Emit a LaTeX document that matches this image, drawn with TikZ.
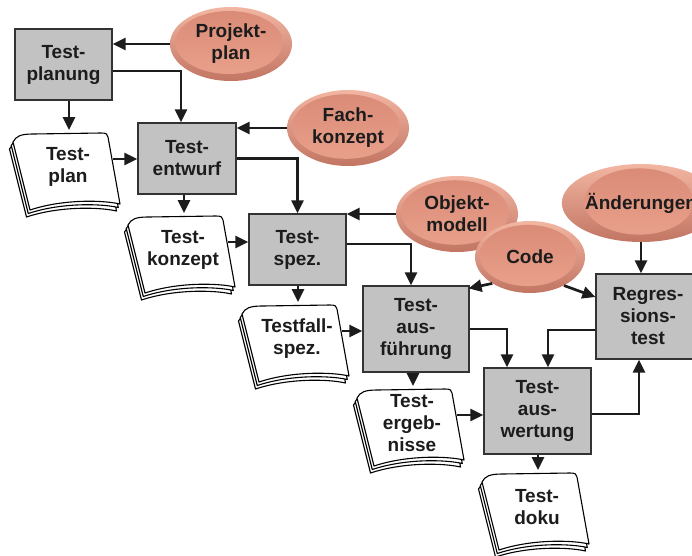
\documentclass[tikz,border=0pt]{standalone}
\usepackage{fontspec}
\setmainfont{Liberation Sans}
\usetikzlibrary{arrows.meta,shapes.geometric,calc}

\definecolor{boxgray}{HTML}{C2C2C2}
\definecolor{ink}{HTML}{1C1C1C}
\definecolor{rimtop}{HTML}{F2B6A2}
\definecolor{rimbot}{HTML}{C27563}
\definecolor{coretop}{HTML}{D98A76}
\definecolor{corebot}{HTML}{EAA28C}

\tikzset{
  lbl/.style={font=\fontsize{19}{22}\selectfont\bfseries, text=ink, align=center},
  stepbox/.style={lbl, rectangle, draw=black!80, line width=1.2pt, fill=boxgray,
    inner sep=0pt, minimum width=#1},
  source/.style 2 args={lbl, ellipse, inner sep=0pt,
    minimum width=2*#1, minimum height=2*#2,
    top color=rimtop, bottom color=rimbot,
    path picture={\shade[top color=coretop, bottom color=corebot]
      ([xshift=-2pt,yshift=1.5pt]path picture bounding box.center)
      ellipse [x radius=0.88*#1, y radius=0.85*#2];}},
  conn/.style={draw=ink, line width=2.7pt, -{Triangle[length=13pt,width=12pt]}},
  page/.style={draw=black, line width=1.1pt, fill=white, line join=round},
  pics/doc/.style={code={
    \foreach \dx/\dy in {-3.5/7, -1.75/3.5, 0/0}
      \filldraw[page, shift={(\dx,\dy)}]
        (0,9) .. controls (3,3) and (8,1) .. (20,1) -- (88,0)
        .. controls (93,0) and (95,1) .. (95,4) -- (107,71)
        .. controls (90,67) and (50,66) .. (17,77) -- cycle;
    \coordinate (-n) at (56,-3);
    \coordinate (-e) at (100,26);
    \node[lbl] (-t) at (55,34) {#1};
  }}
}

\begin{document}
\begin{tikzpicture}[x=1pt, y=-1pt]
\useasboundingbox (0,0) rectangle (692,555);
\clip (0,0) rectangle (692,555);

% process steps
\node[stepbox=97pt, minimum height=71pt] (tplanung) at (63.5,64.5) {Test-\\planung};
\node[stepbox=98pt, minimum height=71pt] (tentwurf) at (187,158.5) {Test-\\entwurf};
\node[stepbox=97pt, minimum height=71pt] (tspez) at (297.5,249.5) {Test-\\spez.};
\node[stepbox=106pt, minimum height=86pt] (tausf) at (416,329) {Test-\\aus-\\führung};
\node[stepbox=107pt, minimum height=86pt] (tausw) at (537.5,411) {Test-\\aus-\\wertung};
\node[stepbox=104pt, minimum height=85pt] (regr) at (648,316.5) {Regres-\\sions-\\test};

% documents
\pic (tplan) at (13,133) {doc={Test-\\plan}};
\pic (tkonz) at (128,216) {doc={Test-\\konzept}};
\pic (tfall) at (242,305) {doc={Testfall-\\spez.}};
\pic (terg) at (357,389) {doc={Test-\\ergeb-\\nisse}};
\pic (tdoku) at (482,473) {doc={Test-\\doku}};

% inputs
\node[source={61pt}{37pt}] (pplan) at (231,44) {Projekt-\\plan};
\node[source={61pt}{38pt}] (fach) at (348,128) {Fach-\\konzept};
\node[source={61pt}{38pt}] (obj) at (457,214) {Objekt-\\modell};
\node[source={55pt}{36pt}] (code) at (530,257) {Code};
\node[source={62pt}{39pt}] (aend) at (641,203) {Änderungen};

% flow
\draw[conn] (pplan.west) -- (pplan.west -| tplanung.east);
\draw[conn] ([yshift=-6.5pt]tplanung.east) -| ([xshift=-6pt]tentwurf.north);
\draw[conn] (tplan-n |- tplanung.south) -- (tplan-n);
\draw[conn] (tplan-e) -- (tplan-e -| tentwurf.west);

\draw[conn] (fach.west) -- (fach.west -| tentwurf.east);
\draw[conn] (tentwurf.east) -| (tspez.north);
\draw[conn] (tkonz-n |- tentwurf.south) -- (tkonz-n);
\draw[conn] (tkonz-e) -- (tkonz-e -| tspez.west);

\draw[conn] (obj.west) -- (obj.west -| tspez.east);
\draw[conn] ([yshift=5.5pt]tspez.east) -| ([xshift=-5pt]tausf.north);
\draw[conn] (tfall-n |- tspez.south) -- (tfall-n);
\draw[conn] (tfall-e) -- (tfall-e -| tausf.west);

\draw[conn] (code.215) -- ([shift={(-1pt,-3pt)}]tausf.north east);
\draw[conn] (code.-40) -- ([yshift=19.5pt]regr.west);
\draw[conn] (aend.south) -- (aend.south |- regr.north);

\draw[conn] (tausf.east) -| ([xshift=-30.5pt]tausw.north);
\draw[conn] ([yshift=-13.5pt]regr.west) -| ([xshift=10.5pt]tausw.north);
\draw[conn] (terg-n |- tausf.south) -- (terg-n);
\draw[conn] (terg-e) -- (terg-e -| tausw.west);

\draw[conn] ([yshift=-3pt]tausw.east) -| ([xshift=-9pt]regr.south);
\draw[conn] (tdoku-n |- tausw.south) -- (tdoku-n);
\end{tikzpicture}
\end{document}
